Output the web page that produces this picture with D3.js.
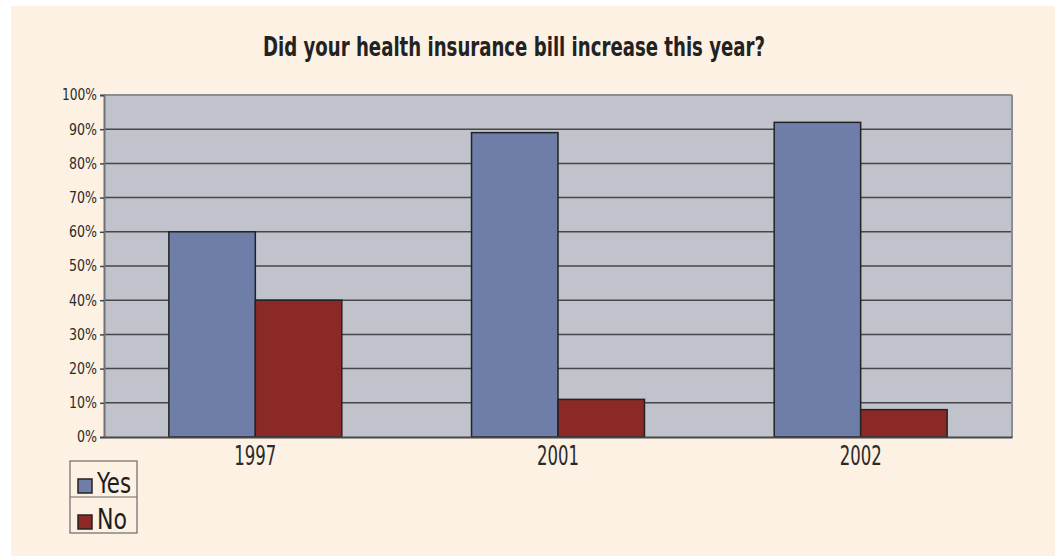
<!DOCTYPE html>
<html>
<head>
<meta charset="utf-8">
<script src="https://cdn.jsdelivr.net/npm/d3@7"></script>
<style>
  html, body { margin: 0; padding: 0; background: #ffffff; }
  svg { display: block; }
  .cond { font-family: "Liberation Sans Narrow", "DejaVu Sans Condensed", "Liberation Sans", sans-serif; font-stretch: condensed; }
</style>
</head>
<body>
<svg id="chart" width="1055" height="557"></svg>
<script>
// Survey answers by year (percent of respondents)
const years = ["1997", "2001", "2002"];
const seriesNames = ["Yes", "No"];
const yesValues = [60, 89, 92];
const noValues = [40, 11, 8];
const yTicks = [0, 10, 20, 30, 40, 50, 60, 70, 80, 90, 100];
const titleText = "Did your health insurance bill increase this year?";

const colors = { Yes: "#6e7ea9", No: "#8b2926" };

const svg = d3.select("#chart");
const W = 1055, H = 557;

// page background panel
svg.append("rect").attr("x", 0).attr("y", 0).attr("width", W).attr("height", H).attr("fill", "#ffffff");
svg.append("rect").attr("x", 11).attr("y", 6).attr("width", W - 11).attr("height", 550).attr("fill", "#fcf1e3");

const plot = { left: 104, right: 1012, top: 95, bottom: 437 };

const y = d3.scaleLinear().domain([0, 100]).range([plot.bottom, plot.top]);
const x = d3.scaleBand().domain(years).range([plot.left, plot.right]).paddingInner(0).paddingOuter(0);
// two bars per group with a gap of 1.5 bar widths split around them
const barW = x.bandwidth() / (seriesNames.length + 1.5);
const xInner = d3.scaleBand().domain(seriesNames)
  .range([barW * 0.75, barW * 0.75 + barW * seriesNames.length]);

const rows = years.map((yr, i) => ({ year: yr, Yes: yesValues[i], No: noValues[i] }));

// plot area
svg.append("rect")
  .attr("x", plot.left).attr("y", plot.top)
  .attr("width", plot.right - plot.left).attr("height", plot.bottom - plot.top)
  .attr("fill", "#c0c3cb");

// horizontal gridlines
svg.append("g").selectAll("line")
  .data(yTicks.filter(t => t > 0 && t < 100))
  .join("line")
  .attr("x1", plot.left).attr("x2", plot.right)
  .attr("y1", d => y(d)).attr("y2", d => y(d))
  .attr("stroke", "#45464a").attr("stroke-width", 1.5);

// top and right frame
svg.append("line").attr("x1", plot.left).attr("x2", plot.right)
  .attr("y1", plot.top).attr("y2", plot.top)
  .attr("stroke", "#8a8d92").attr("stroke-width", 2);
svg.append("line").attr("x1", plot.right).attr("x2", plot.right)
  .attr("y1", plot.top).attr("y2", plot.bottom)
  .attr("stroke", "#8a8d92").attr("stroke-width", 2);

// bars
const groups = svg.append("g").selectAll("g")
  .data(rows).join("g")
  .attr("transform", d => `translate(${x(d.year)},0)`);

groups.selectAll("rect")
  .data(d => seriesNames.map(s => ({ key: s, value: d[s] })))
  .join("rect")
  .attr("x", d => xInner(d.key))
  .attr("width", xInner.bandwidth())
  .attr("y", d => y(d.value))
  .attr("height", d => y(0) - y(d.value))
  .attr("fill", d => colors[d.key])
  .attr("stroke", "#232323").attr("stroke-width", 1.5);

// y axis
const yAxis = d3.axisLeft(y).tickValues(yTicks).tickFormat(d => d + "%").tickSize(4).tickPadding(3);
const yG = svg.append("g").attr("transform", `translate(${plot.left},0)`).call(yAxis);
yG.select(".domain").attr("stroke", "#6f7175").attr("stroke-width", 2);
yG.selectAll(".tick line").attr("stroke", "#45464a").attr("stroke-width", 1.5);
yG.selectAll(".tick text")
  .attr("class", "cond")
  .attr("fill", "#2a2a2a")
  .style("font-size", "15.5px")
  .attr("textLength", d => d === 100 ? 35 : (d === 0 ? 20 : 28))
  .attr("lengthAdjust", "spacingAndGlyphs");

// x axis
const xAxis = d3.axisBottom(x).tickSize(0).tickPadding(10);
const xG = svg.append("g").attr("transform", `translate(0,${plot.bottom})`).call(xAxis);
xG.select(".domain").attr("stroke", "#45464a").attr("stroke-width", 2);
xG.selectAll(".tick text")
  .attr("class", "cond")
  .attr("fill", "#2a2a2a")
  .attr("dy", "0.68em")
  .style("font-size", "27px")
  .attr("textLength", 42).attr("lengthAdjust", "spacingAndGlyphs");

// title
svg.append("text")
  .attr("class", "cond")
  .attr("x", 514).attr("y", 56)
  .attr("text-anchor", "middle")
  .attr("fill", "#222222")
  .style("font-size", "26px").style("font-weight", "bold")
  .attr("textLength", 502).attr("lengthAdjust", "spacingAndGlyphs")
  .text(titleText);

// legend
const legend = svg.append("g").attr("transform", "translate(70,461)");
const legH = 36;
legend.append("rect").attr("x", 0).attr("y", 0)
  .attr("width", 67).attr("height", legH * seriesNames.length)
  .attr("fill", "none").attr("stroke", "#6a6a6a").attr("stroke-width", 1.2);
legend.append("line").attr("x1", 0).attr("x2", 67).attr("y1", legH).attr("y2", legH)
  .attr("stroke", "#6a6a6a").attr("stroke-width", 1.2);
const item = legend.selectAll("g.item").data(seriesNames).join("g")
  .attr("class", "item")
  .attr("transform", (d, i) => `translate(0,${i * legH})`);
item.append("rect")
  .attr("x", 8).attr("y", 18).attr("width", 14).attr("height", 14)
  .attr("fill", d => colors[d]).attr("stroke", "#232323").attr("stroke-width", 1.5);
item.append("text")
  .attr("class", "cond")
  .attr("x", 27).attr("y", 32)
  .attr("fill", "#1e1e1e")
  .style("font-size", "29px")
  .attr("textLength", d => d === "Yes" ? 34 : 30)
  .attr("lengthAdjust", "spacingAndGlyphs")
  .text(d => d);
</script>
</body>
</html>
